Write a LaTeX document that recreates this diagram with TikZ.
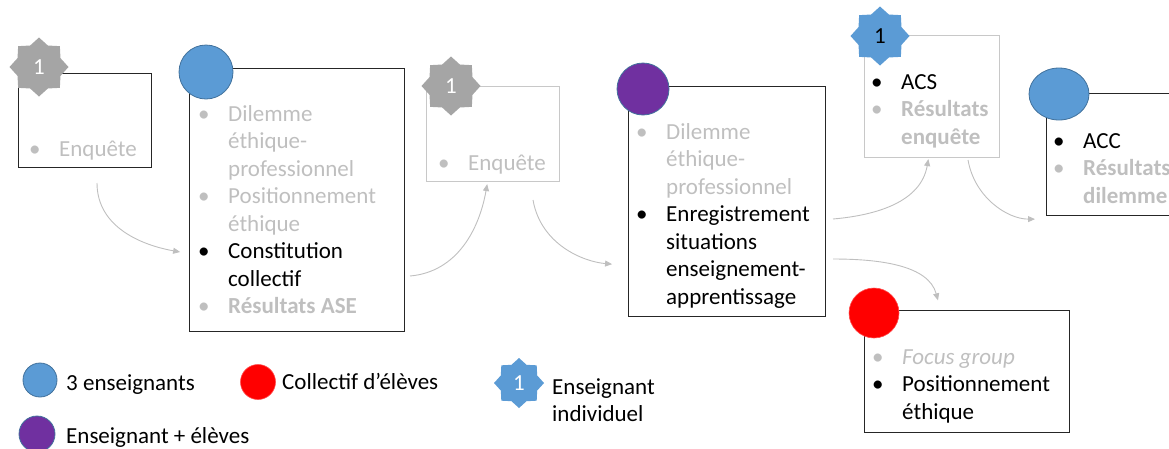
\documentclass[tikz,border=0pt]{standalone}
\usepackage{fontspec}
\setmainfont{Carlito}
\usetikzlibrary{shapes.geometric,arrows.meta}
\definecolor{txtgray}{HTML}{BFBFBF}
\definecolor{pblue}{HTML}{5B9BD5}
\definecolor{pblueline}{HTML}{41719C}
\definecolor{ppurple}{HTML}{7030A0}
\definecolor{stargray}{HTML}{A5A5A5}
\definecolor{linegray}{HTML}{C8C8C8}
\newcommand{\bul}{\makebox[30pt][l]{\textbullet}}
\newcommand{\ind}{\hspace*{30pt}}
\newcommand{\gy}[1]{\textcolor{txtgray}{#1}}

\begin{document}
\begin{tikzpicture}[x=1pt,y=1pt,
  box/.style={draw=black!85,line width=1.1pt,anchor=north west,inner sep=0pt},
  lightbox/.style={box,draw=linegray},
  dot/.style={ellipse,inner sep=0pt,minimum size=#1},
  badge/.style={star,star points=8,star point ratio=1.27,minimum size=#1,inner sep=0pt,
    font=\fontsize{23}{27}\selectfont},
  list/.style={anchor=base west,inner sep=0pt,font=\fontsize{23}{27.5}\selectfont},
  flow/.style={draw=txtgray,line width=0.9pt,-{Triangle[length=7pt,width=6pt]}}]
  \useasboundingbox (0,0) rectangle (1169,-448);

  % boxes
  \node[box,minimum width=133pt,minimum height=94pt] (b1) at (18,-73) {};
  \node[box,minimum width=215pt,minimum height=263pt] (b2) at (189,-68) {};
  \node[lightbox,minimum width=133pt,minimum height=95pt] (b3) at (426,-86) {};
  \node[box,minimum width=197pt,minimum height=230pt] (b4) at (628,-86) {};
  \node[lightbox,minimum width=135pt,minimum height=122pt] (b5) at (864,-35) {};
  \node[box,minimum width=150pt,minimum height=122pt] (b6) at (1046,-93) {};
  \node[box,minimum width=205pt,minimum height=122pt] (b7) at (864,-310) {};

  % markers
  \node[badge=59pt,fill=stargray,text=white] (s1) at (39,-67) {1};
  \node[dot=54pt,fill=pblue,draw=pblueline,line width=0.8pt] (c2) at (206,-72) {};
  \node[badge=59pt,fill=stargray,text=white] (s3) at (451,-86) {1};
  \node[dot=52pt,fill=ppurple,draw=pblueline,line width=0.8pt] (c4) at (643,-89) {};
  \node[badge=59pt,fill=pblue,text=black] (s5) at (880,-36) {1};
  \node[ellipse,inner sep=0pt,minimum width=60pt,minimum height=52pt,fill=pblue,
    draw=pblueline,line width=0.8pt] (c6) at (1059,-94) {};
  \node[dot=50pt,fill=red,draw=red!70!white,line width=0.6pt] (c7) at (874,-313) {};

  % lists
  \node[list] (t1) at (29,-156) {\gy{\bul Enquête}};
  \node[list] (t2) at (198,-121) {\begin{tabular}[t]{@{}l@{}}
    \gy{\bul Dilemme}\\ \gy{\ind éthique-}\\ \gy{\ind professionnel}\\
    \gy{\bul Positionnement}\\ \gy{\ind éthique}\\
    \bul Constitution\\ \ind collectif\\
    \gy{\bul\textbf{Résultats ASE}}\end{tabular}};
  \node[list] (t3) at (438,-170) {\gy{\bul Enquête}};
  \node[list] (t4) at (636,-139) {\begin{tabular}[t]{@{}l@{}}
    \gy{\bul Dilemme}\\ \gy{\ind éthique-}\\ \gy{\ind professionnel}\\
    \bul Enregistrement\\ \ind situations\\ \ind enseignement-\\ \ind apprentissage
    \end{tabular}};
  \node[list] (t5) at (871,-89) {\begin{tabular}[t]{@{}l@{}}
    \bul ACS\\ \gy{\bul\textbf{Résultats}}\\ \gy{\ind\textbf{enquête}}\end{tabular}};
  \node[list] (t6) at (1053,-148) {\begin{tabular}[t]{@{}l@{}}
    \bul ACC\\ \gy{\bul\textbf{Résultats}}\\ \gy{\ind\textbf{dilemme}}\end{tabular}};
  \node[list] (t7) at (872,-364) {\begin{tabular}[t]{@{}l@{}}
    \gy{\bul\textit{Focus group}}\\ \bul Positionnement\\ \ind éthique\end{tabular}};

  % connectors
  \coordinate (o1) at (97,-183);
  \coordinate (o2) at (410,-276);
  \coordinate (o3) at (533,-200);
  \coordinate (o4) at (833,-219);
  \coordinate (o5) at (968,-160);
  \coordinate (o6) at (833,-259);
  \draw[flow,shorten >=9pt] (o1) to[out=-90,in=170] ([yshift=-53.5pt]b2.west);
  \draw[flow,shorten >=2pt] (o2) to[out=5,in=-100] ([xshift=-5.5pt]b3.south);
  \draw[flow,shorten >=16pt] (o3) to[out=-80,in=175] ([yshift=-64pt]b4.west);
  \draw[flow,shorten >=1pt] (o4) to[out=5,in=-100] ([xshift=-3.5pt]b5.south);
  \draw[flow,shorten >=11pt] (o5) to[out=-80,in=180] ([yshift=-3pt]b6.south west);
  \draw[flow,shorten >=10pt] (o6) to[out=0,in=105] ([xshift=-26.5pt]b7.north);

  % legend
  \node[dot=34pt,fill=pblue,draw=pblueline,line width=0.8pt] (lblue) at (40,-380) {};
  \node[list] (lbluetxt) at (66,-390) {3 enseignants};
  \node[dot=35pt,fill=red,draw=red!70!white,line width=0.6pt] (lred) at (258,-382) {};
  \node[list] (lredtxt) at (282,-389) {Collectif d’élèves};
  \node[badge=50pt,fill=pblue,text=white] (lstar) at (519,-383) {1};
  \node[list] (lstartxt) at (552,-394) {\begin{tabular}[t]{@{}l@{}}
    Enseignant\\ individuel\end{tabular}};
  \node[dot=36pt,fill=ppurple,draw=pblueline,line width=0.8pt] (lpurple) at (37,-434) {};
  \node[list] (lpurpletxt) at (66,-443) {Enseignant + élèves};
\end{tikzpicture}
\end{document}
